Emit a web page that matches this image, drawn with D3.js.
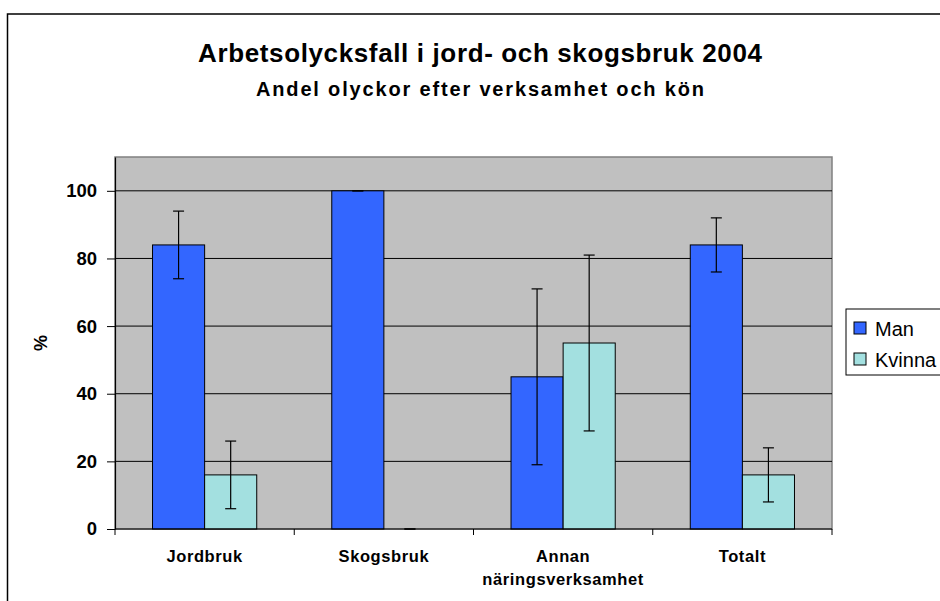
<!DOCTYPE html>
<html>
<head>
<meta charset="utf-8">
<script src="https://cdn.jsdelivr.net/npm/d3@7"></script>
<style>
  html, body { margin: 0; padding: 0; background: #fff; overflow: hidden; }
  svg { display: block; font-family: "Liberation Sans", Arial, sans-serif; }
</style>
</head>
<body>
<svg id="chart" width="940" height="601"></svg>
<script>
// ── Data ─────────────────────────────────────────────────────────────
const categories  = ['Jordbruk', 'Skogsbruk', 'Annan näringsverksamhet', 'Totalt'];
const catLines    = [['Jordbruk'], ['Skogsbruk'], ['Annan', 'näringsverksamhet'], ['Totalt']];
const seriesNames = ['Man', 'Kvinna'];
const manValues   = [84, 100, 45, 84];
const kvinnaValues = [16, 0, 55, 16];
const manErr      = [10, 0, 26, 8];
const kvinnaErr   = [10, 0, 26, 8];
const yTicks      = [0, 20, 40, 60, 80, 100];
const colors      = { Man: '#3366ff', Kvinna: '#a3e0e0' };

const svg = d3.select('#chart');
const FONT = '"Liberation Sans", Arial, sans-serif';

// outer chart frame (runs off the right/bottom edge)
svg.append('rect')
  .attr('x', 7.5).attr('y', 14)
  .attr('width', 1000).attr('height', 1000)
  .attr('fill', '#fff')
  .attr('stroke', '#000').attr('stroke-width', 1.5);

// titles
svg.append('text')
  .attr('x', 480).attr('y', 62)
  .attr('text-anchor', 'middle')
  .attr('font-size', 26).attr('font-weight', 'bold')
  .attr('textLength', 564).attr('lengthAdjust', 'spacing')
  .text('Arbetsolycksfall i jord- och skogsbruk 2004');

svg.append('text')
  .attr('x', 480).attr('y', 96)
  .attr('text-anchor', 'middle')
  .attr('font-size', 20).attr('font-weight', 'bold')
  .attr('textLength', 448).attr('lengthAdjust', 'spacing')
  .text('Andel olyckor efter verksamhet och kön');

// ── Scales ───────────────────────────────────────────────────────────
const plot = { left: 115, right: 832, top: 157, bottom: 529 };

const x = d3.scaleBand().domain(categories).range([plot.left, plot.right]).padding(0);
const xs = d3.scaleBand().domain(seriesNames).range([0, x.bandwidth()])
  .paddingInner(0).paddingOuter(0.72);
const y = d3.scaleLinear().domain([0, 110]).range([plot.bottom, plot.top]);

// plot background
svg.append('rect')
  .attr('x', plot.left).attr('y', plot.top)
  .attr('width', plot.right - plot.left).attr('height', plot.bottom - plot.top)
  .attr('fill', '#c0c0c0')
  .attr('stroke', '#808080').attr('stroke-width', 1.5);

// gridlines
svg.append('g').selectAll('line')
  .data(yTicks.filter(t => t > 0)).join('line')
  .attr('x1', plot.left).attr('x2', plot.right)
  .attr('y1', d => y(d)).attr('y2', d => y(d))
  .attr('stroke', '#000').attr('stroke-width', 1);

// ── Bars ─────────────────────────────────────────────────────────────
const rows = categories.map((c, i) => ({
  cat: c,
  bars: [
    { s: 'Man',    v: manValues[i],    e: manErr[i] },
    { s: 'Kvinna', v: kvinnaValues[i], e: kvinnaErr[i] },
  ],
}));

const groups = svg.append('g').selectAll('g')
  .data(rows).join('g')
  .attr('transform', d => `translate(${x(d.cat)},0)`);

groups.selectAll('rect')
  .data(d => d.bars.filter(b => b.v > 0)).join('rect')
  .attr('x', b => xs(b.s))
  .attr('y', b => y(b.v))
  .attr('width', xs.bandwidth())
  .attr('height', b => y(0) - y(b.v))
  .attr('fill', b => colors[b.s])
  .attr('stroke', '#000').attr('stroke-width', 1);

// error bars
const eb = groups.selectAll('g.err')
  .data(d => d.bars).join('g').attr('class', 'err')
  .attr('transform', b => `translate(${xs(b.s) + xs.bandwidth() / 2},0)`)
  .attr('stroke', '#000').attr('stroke-width', 1.2);

eb.append('line')
  .attr('x1', 0).attr('x2', 0)
  .attr('y1', b => y(b.v + b.e)).attr('y2', b => y(Math.max(0, b.v - b.e)));
eb.append('line')
  .attr('x1', -5.5).attr('x2', 5.5)
  .attr('y1', b => y(b.v + b.e)).attr('y2', b => y(b.v + b.e));
eb.append('line')
  .attr('x1', -5.5).attr('x2', 5.5)
  .attr('y1', b => y(Math.max(0, b.v - b.e))).attr('y2', b => y(Math.max(0, b.v - b.e)));

// ── Axes ─────────────────────────────────────────────────────────────
const yAxis = svg.append('g')
  .attr('transform', `translate(${plot.left},0)`)
  .call(d3.axisLeft(y).tickValues(yTicks).tickSize(8).tickPadding(10).tickSizeOuter(0));
yAxis.select('.domain').attr('stroke', '#000').attr('stroke-width', 1.2);
yAxis.selectAll('.tick line').attr('stroke', '#000');
yAxis.selectAll('.tick text')
  .attr('font-family', FONT).attr('font-size', 18.5).attr('font-weight', 'bold')
  .attr('fill', '#000');

// x axis line + category boundary ticks
const xTickPos = categories.map(c => x(c)).concat([plot.right]);
svg.append('line')
  .attr('x1', plot.left).attr('x2', plot.right)
  .attr('y1', plot.bottom).attr('y2', plot.bottom)
  .attr('stroke', '#000').attr('stroke-width', 1.2);
svg.append('g').selectAll('line')
  .data(xTickPos).join('line')
  .attr('x1', d => d).attr('x2', d => d)
  .attr('y1', plot.bottom).attr('y2', plot.bottom + 6)
  .attr('stroke', '#000').attr('stroke-width', 1);

// category labels
const catText = svg.append('g').selectAll('text')
  .data(categories).join('text')
  .attr('x', c => x(c) + x.bandwidth() / 2)
  .attr('y', 562)
  .attr('text-anchor', 'middle')
  .attr('font-size', 16.5).attr('font-weight', 'bold')
  .attr('letter-spacing', 0.6);
catText.selectAll('tspan')
  .data((c, i) => catLines[i]).join('tspan')
  .attr('x', function() { return d3.select(this.parentNode).attr('x'); })
  .attr('dy', (l, j) => j === 0 ? 0 : 23)
  .text(l => l);

// y axis title
svg.append('text')
  .attr('transform', `translate(47,${(plot.top + plot.bottom) / 2}) rotate(-90)`)
  .attr('text-anchor', 'middle')
  .attr('font-size', 18).attr('font-weight', 'bold')
  .text('%');

// ── Legend ───────────────────────────────────────────────────────────
const legend = svg.append('g').attr('transform', 'translate(846,309)');
legend.append('rect')
  .attr('width', 100).attr('height', 66)
  .attr('fill', '#fff').attr('stroke', '#000').attr('stroke-width', 1);
const li = legend.selectAll('g.item')
  .data(seriesNames).join('g').attr('class', 'item')
  .attr('transform', (d, i) => `translate(8,${13 + i * 31})`);
li.append('rect')
  .attr('width', 12).attr('height', 12)
  .attr('fill', d => colors[d]).attr('stroke', '#000').attr('stroke-width', 1);
li.append('text')
  .attr('x', 21).attr('y', 13.5)
  .attr('font-size', 20)
  .text(d => d);
</script>
</body>
</html>
